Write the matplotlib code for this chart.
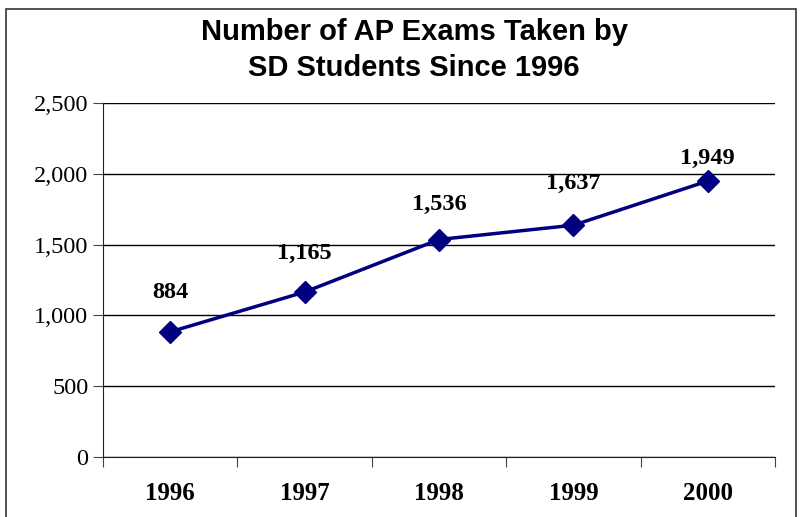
import matplotlib
matplotlib.use('Agg')
import matplotlib.pyplot as plt
from matplotlib.patches import Rectangle
from matplotlib.ticker import FuncFormatter

years = ['1996', '1997', '1998', '1999', '2000']
exams = [884, 1165, 1536, 1637, 1949]
yticks = [0, 500, 1000, 1500, 2000, 2500]
label_offsets = [28, 28, 25, 30, 16]  # points above each marker

fig = plt.figure(figsize=(8.01, 5.17), dpi=100)
ax = fig.add_axes([0.1286, 0.116, 0.8389, 0.6848])

# outer chart border (bottom edge falls outside the image)
fig.patches.append(Rectangle((6 / 801, -0.02), 790 / 801, (517 - 9) / 517 + 0.02,
                             transform=fig.transFigure, fill=False,
                             edgecolor='#333333', linewidth=1.2))

x = list(range(len(years)))
ax.plot(x, exams, color='#000080', linewidth=2.5, marker='D', markersize=11,
        markerfacecolor='#000080', markeredgecolor='#000080', zorder=3)

for xi, v, off in zip(x, exams, label_offsets):
    ax.annotate(f'{v:,}', (xi, v), xytext=(0, off), textcoords='offset points',
                ha='center', va='center', fontsize=17.5, fontweight='bold',
                family='Liberation Serif')

ax.set_xlim(-0.5, len(years) - 0.5)
ax.set_ylim(0, 2500)
ax.set_yticks(yticks)
ax.yaxis.set_major_formatter(FuncFormatter(lambda v, p: f'{int(v):,}'))
ax.grid(axis='y', color='black', linewidth=1)
ax.set_axisbelow(True)

ax.set_xticks([i - 0.5 for i in range(len(years) + 1)])
ax.set_xticklabels([])
ax.set_xticks(x, minor=True)
ax.set_xticklabels(years, minor=True, fontsize=18, fontweight='bold',
                   family='Liberation Serif')
ax.tick_params(axis='x', which='minor', length=0, pad=18)
ax.tick_params(axis='x', which='major', length=7, direction='out', color='#444444')
ax.tick_params(axis='y', length=7, direction='out', labelsize=17.5, color='#444444')
for lab in ax.get_yticklabels():
    lab.set_family('Liberation Serif')

for s in ['top', 'right']:
    ax.spines[s].set_visible(False)
ax.spines['left'].set_color('#222222')
ax.spines['bottom'].set_color('#222222')

fig.text(0.517, 0.903, 'Number of AP Exams Taken by\nSD Students Since 1996',
         ha='center', va='center', fontsize=21, fontweight='bold',
         family='Liberation Sans', linespacing=1.35)

fig.savefig('out.png', dpi=100)
